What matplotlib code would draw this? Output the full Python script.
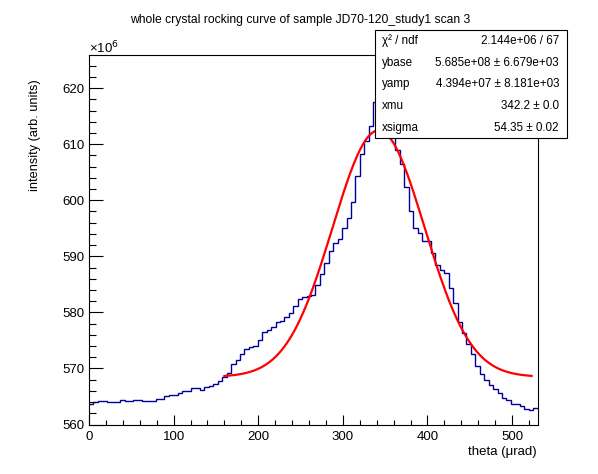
import numpy as np
import matplotlib
matplotlib.use("Agg")
import matplotlib.pyplot as plt
from matplotlib.patches import Rectangle
from matplotlib.ticker import MultipleLocator

plt.rcParams['font.family'] = ['Liberation Sans', 'DejaVu Sans']

# ---- data (intensity in units of 1e6, arb. units) ----
theta_min, theta_max = 0.0, 530.0
n_bins = 101
intensity = [
    563.6, 564.0, 564.26, 564.26, 564.08, 564.08, 564.08, 564.4, 564.26, 564.26,
    564.4, 564.4, 564.26, 564.26, 564.26, 564.6, 564.6, 565.0, 565.3, 565.3,
    565.7, 566.0, 566.0, 566.45, 566.45, 566.2, 566.6, 566.9, 567.2, 567.7,
    568.4, 569.2, 570.8, 571.5, 572.6, 573.5, 573.9, 574.0, 575.1, 576.5,
    576.9, 577.45, 578.2, 578.5, 579.1, 579.9, 581.1, 582.3, 582.8, 583.0,
    583.1, 584.9, 586.8, 588.8, 590.9, 592.3, 593.0, 595.1, 596.9, 599.7,
    604.3, 608.3, 610.6, 613.3, 617.6, 621.5, 622.9, 620.0, 614.5, 609.0,
    606.4, 602.3, 598.1, 595.0, 594.2, 592.7, 592.7, 590.5, 588.4, 587.5,
    587.05, 584.3, 581.7, 578.3, 576.3, 574.3, 572.5, 570.5, 569.05, 567.9,
    567.1, 566.3, 565.6, 564.8, 564.3, 563.7, 563.7, 563.3, 562.8, 562.66,
    563.0,
]

# fit parameters (Gaussian on a flat base), y in units of 1e6
ybase = 568.5
yamp = 43.94
xmu = 342.2
xsigma = 54.35
fit_range = (160.0, 523.0)

stats_labels = ["χ² / ndf", "ybase", "yamp", "xmu", "xsigma"]
stats_values = ["2.144e+06 / 67", "5.685e+08 ± 6.679e+03",
                "4.394e+07 ± 8.181e+03", "342.2 ± 0.0",
                "54.35 ± 0.02"]

title = "whole crystal rocking curve of sample JD70-120_study1 scan 3"
xlabel = "theta (μrad)"
ylabel = "intensity (arb. units)"

# ---- figure ----
W, H = 598, 474
fig = plt.figure(figsize=(W / 100, H / 100), dpi=100)
L, R, T, B = 89, 537.5, 55, 424.5
ax = fig.add_axes([L / W, 1 - B / H, (R - L) / W, (B - T) / H])

edges = np.linspace(theta_min, theta_max, n_bins + 1)
ax.stairs(intensity, edges, color='#000099', lw=1.0, baseline=None)

xf = np.linspace(fit_range[0], fit_range[1], 200)
yf = ybase + yamp * np.exp(-0.5 * ((xf - xmu) / xsigma) ** 2)
ax.plot(xf, yf, color='#ff0000', lw=1.6)

ax.set_xlim(theta_min, theta_max)
ax.set_ylim(560.0, 625.9)

ax.xaxis.set_major_locator(MultipleLocator(100))
ax.xaxis.set_minor_locator(MultipleLocator(20))
ax.yaxis.set_major_locator(MultipleLocator(10))
ax.yaxis.set_minor_locator(MultipleLocator(2))
ax.tick_params(axis='both', which='both', direction='in', top=False, right=False,
               labelsize=9.5, width=0.8, color='black')
ax.tick_params(axis='x', which='major', length=7, pad=5)
ax.tick_params(axis='x', which='minor', length=3.6)
ax.tick_params(axis='y', which='major', length=10, pad=3.5)
ax.tick_params(axis='y', which='minor', length=5)
for s in ax.spines.values():
    s.set_linewidth(0.8)

fig.text(300 / W, 1 - 20 / H, title, ha='center', va='center', fontsize=8.7)
fig.text(537 / W, 1 - 452 / H, xlabel, ha='right', va='center', fontsize=9.5)
fig.text(35 / W, 1 - 79 / H, ylabel, ha='center', va='top', rotation=90, fontsize=9.2)
fig.text(89 / W, 1 - 48 / H, "×10$^{6}$", ha='left', va='center', fontsize=9.5)

# stats box
bx0, bx1, by0, by1 = 374.5, 567.0, 30.0, 138.5
fig.patches.append(Rectangle((bx0 / W, 1 - by1 / H), (bx1 - bx0) / W, (by1 - by0) / H,
                             transform=fig.transFigure, facecolor='white',
                             edgecolor='black', lw=0.8, zorder=5))
rowh = (by1 - by0) / len(stats_labels)
for i, (lab, val) in enumerate(zip(stats_labels, stats_values)):
    yc = by0 + rowh * (i + 0.5)
    fig.text(382 / W, 1 - yc / H, lab, ha='left', va='center', fontsize=8.4, zorder=6)
    fig.text(559 / W, 1 - yc / H, val, ha='right', va='center', fontsize=8.4, zorder=6)

fig.savefig("out.png", dpi=100)
